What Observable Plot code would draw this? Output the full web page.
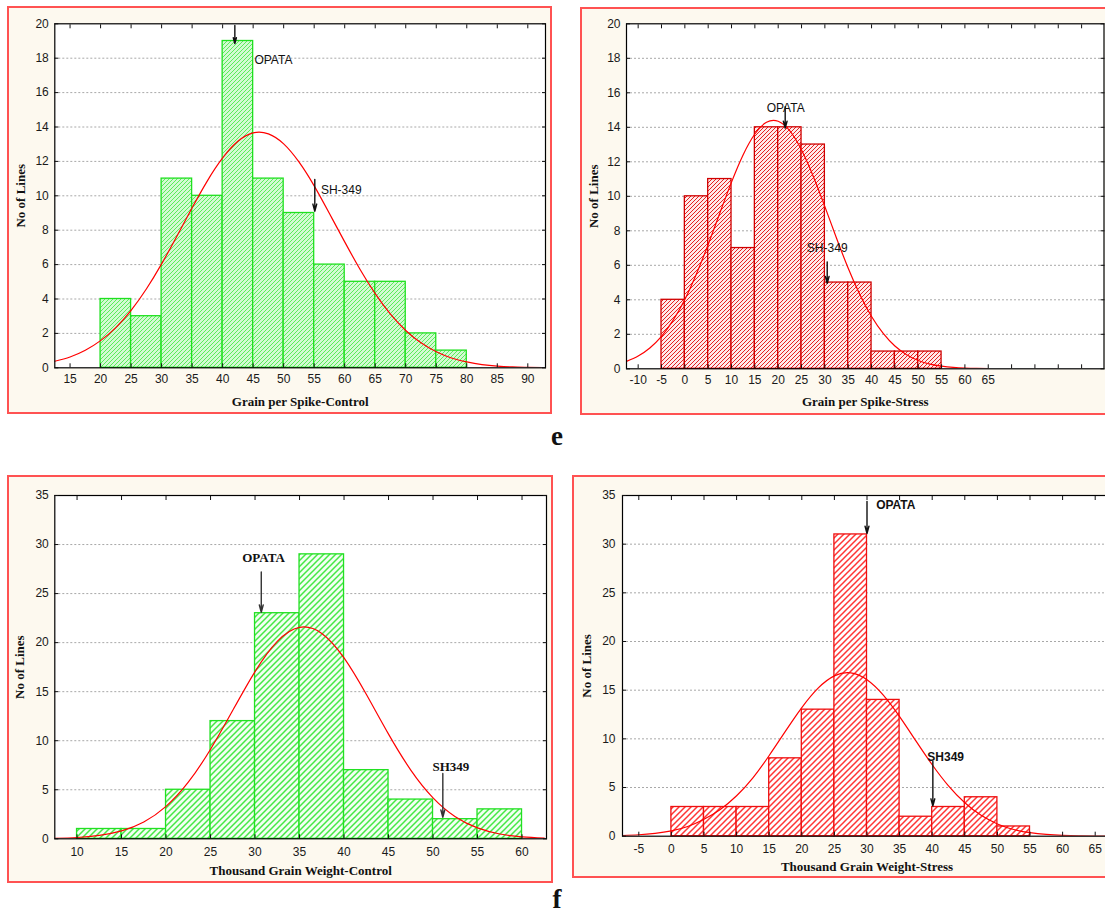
<!DOCTYPE html>
<html><head><meta charset="utf-8">
<script src="https://cdn.jsdelivr.net/npm/d3@7"></script>
<script src="https://cdn.jsdelivr.net/npm/@observablehq/plot@0.6"></script>
<style>
html,body{margin:0;padding:0;overflow:hidden;background:#fff;width:1105px;height:914px;}
#page{position:relative;width:1105px;height:914px;overflow:hidden;background:#fff;}
.panel{position:absolute;background:#fdf9ef;border:2px solid #ff5252;box-sizing:border-box;}
.chart{position:absolute;}
.letter{position:absolute;font-family:"Liberation Serif","Times New Roman",serif;font-weight:bold;font-size:27px;line-height:27px;transform:translate(-50%,-50%);color:#111;}
</style></head>
<body>
<svg width="0" height="0" style="position:absolute">
  <defs>
    <pattern id="hatchGreenFine" patternUnits="userSpaceOnUse" width="4" height="4">
      <rect width="4" height="4" fill="#d2fad2"/>
      <path d="M-1,5 L5,-1 M-1,1 L1,-1 M3,5 L5,3" stroke="#5aec5a" stroke-width="1"/>
    </pattern>
    <pattern id="hatchGreenWide" patternUnits="userSpaceOnUse" width="6" height="6">
      <rect width="6" height="6" fill="#f2fff2"/>
      <path d="M-1,7 L7,-1 M-1,1 L1,-1 M5,7 L7,5" stroke="#45e845" stroke-width="1.5"/>
    </pattern>
    <pattern id="hatchRedFine" patternUnits="userSpaceOnUse" width="4" height="4">
      <rect width="4" height="4" fill="#ffeaea"/>
      <path d="M-1,5 L5,-1 M-1,1 L1,-1 M3,5 L5,3" stroke="#e42222" stroke-width="1"/>
    </pattern>
    <pattern id="hatchRedWide" patternUnits="userSpaceOnUse" width="6" height="6">
      <rect width="6" height="6" fill="#ffffff"/>
      <path d="M-1,7 L7,-1 M-1,1 L1,-1 M5,7 L7,5" stroke="#ff3535" stroke-width="1.5"/>
    </pattern>
  </defs>
</svg>
<div id="page">
  <div class="panel" style="left:7px;top:5.5px;width:545px;height:408px"></div>
  <div class="panel" style="left:580px;top:7px;width:540px;height:408px"></div>
  <div class="panel" style="left:7px;top:475px;width:546px;height:408px"></div>
  <div class="panel" style="left:572px;top:475px;width:560px;height:403px"></div>
  <div class="chart" id="cA" style="left:0px;top:0px;width:560px;height:420px"></div>
  <div class="chart" id="cB" style="left:575px;top:0px;width:530px;height:420px"></div>
  <div class="chart" id="cC" style="left:0px;top:470px;width:560px;height:420px"></div>
  <div class="chart" id="cD" style="left:560px;top:470px;width:560px;height:420px"></div>
  <div class="letter" style="left:557px;top:436px">e</div>
  <div class="letter" style="left:557px;top:899px">f</div>
</div>
<script>
// ---------------- DATA ----------------
const binWidth = 5;

// Grain per Spike - Control
const gpsControlBinStart = [20,25,30,35,40,45,50,55,60,65,70,75];
const gpsControlCounts   = [4,3,11,10,19,11,9,6,5,5,2,1];
const gpsControlCurveX = [12.5,15,17.5,20,22.5,25,27.5,30,32.5,35,37.5,40,42.5,45,47.5,50,52.5,55,57.5,60,62.5,65,67.5,70,72.5,75,77.5,80,82.5,85,87.5,90,92.5];
const gpsControlCurveY = [0.38,0.63,1.02,1.58,2.34,3.34,4.58,6.04,7.65,9.30,10.87,12.2,13.17,13.66,13.6,13.02,11.97,10.58,8.97,7.32,5.73,4.31,3.12,2.17,1.45,0.93,0.57,0.34,0.19,0.10,0.05,0.03,0.01];
const gpsControlXTicks = [15,20,25,30,35,40,45,50,55,60,65,70,75,80,85,90];
const gpsControlYTicks = [0,2,4,6,8,10,12,14,16,18,20];
const gpsControlAnnotText = ["OPATA","SH-349"];
const gpsControlAnnotX = [45.2,56.1];
const gpsControlAnnotY = [17.87,10.3];
const gpsControlArrowX = [42,55.1];
const gpsControlArrowFrom = [19.9,10.95];
const gpsControlArrowTo = [18.85,9.1];

// Grain per Spike - Stress
const gpsStressBinStart = [-5,0,5,10,15,20,25,30,35,40,45,50];
const gpsStressCounts   = [4,10,11,7,14,14,13,5,5,1,1,1];
const gpsStressCurveX = [-12.5,-10,-7.5,-5,-2.5,0,2.5,5,7.5,10,12.5,15,17.5,20,22.5,25,27.5,30,32.5,35,37.5,40,42.5,45,47.5,50,52.5,55,57.5,60,62.5,65];
const gpsStressCurveY = [0.43,0.74,1.21,1.88,2.82,4.02,5.51,7.21,9.03,10.82,12.41,13.61,14.29,14.35,13.79,12.68,11.16,9.40,7.57,5.83,4.30,3.03,2.05,1.32,0.82,0.48,0.27,0.15,0.08,0.04,0.02,0.01];
const gpsStressXTicks = [-10,-5,0,5,10,15,20,25,30,35,40,45,50,55,60,65,70,75,80,85];
const gpsStressXLabels = [-10,-5,0,5,10,15,20,25,30,35,40,45,50,55,60,65];
const gpsStressYTicks = [0,2,4,6,8,10,12,14,16,18,20];
const gpsStressAnnotText = ["OPATA","SH-349"];
const gpsStressAnnotX = [21.6,30.5];
const gpsStressAnnotY = [15.1,6.97];
const gpsStressArrowX = [21.5,30.5];
const gpsStressArrowFrom = [15.2,6.2];
const gpsStressArrowTo = [13.95,4.95];

// Thousand Grain Weight - Control
const tgwControlBinStart = [10,15,20,25,30,35,40,45,50,55];
const tgwControlCounts   = [1,1,5,12,23,29,7,4,2,3];
const tgwControlCurveX = [7.5,10,12.5,15,17.5,20,22.5,25,27.5,30,32.5,35,37.5,40,42.5,45,47.5,50,52.5,55,57.5,60,62.5];
const tgwControlCurveY = [0.05,0.13,0.35,0.81,1.72,3.31,5.77,9.13,13.10,17.05,20.13,21.56,20.94,18.44,14.73,10.67,7.01,4.18,2.26,1.11,0.49,0.20,0.07];
const tgwControlXTicks = [10,15,20,25,30,35,40,45,50,55,60];
const tgwControlYTicks = [0,5,10,15,20,25,30,35];
const tgwControlAnnotText = ["OPATA","SH349"];
const tgwControlAnnotX = [30.95,52.0];
const tgwControlAnnotY = [28.65,7.3];
const tgwControlArrowX = [30.7,51.1];
const tgwControlArrowFrom = [27.2,6.65];
const tgwControlArrowTo = [23.1,2.2];

// Thousand Grain Weight - Stress
const tgwStressBinStart = [0,5,10,15,20,25,30,35,40,45,50];
const tgwStressCounts   = [3,3,3,8,13,31,14,2,3,4,1];
const tgwStressCurveX = [-7.5,-5,-2.5,0,2.5,5,7.5,10,12.5,15,17.5,20,22.5,25,27.5,30,32.5,35,37.5,40,42.5,45,47.5,50,52.5,55,57.5,60,62.5,65,67.5];
const tgwStressCurveY = [0.07,0.15,0.3,0.55,1.0,1.75,2.75,4.15,5.99,8.29,10.79,13.21,15.21,16.47,16.78,16.07,14.49,12.28,9.79,7.34,5.17,3.43,2.14,1.26,0.69,0.36,0.18,0.08,0.03,0.01,0.0];
const tgwStressXTicks = [-5,0,5,10,15,20,25,30,35,40,45,50,55,60,65];
const tgwStressYTicks = [0,5,10,15,20,25,30,35];
const tgwStressAnnotText = ["OPATA","SH349"];
const tgwStressAnnotX = [31.4,39.25];
const tgwStressAnnotY = [34.0,8.1];
const tgwStressArrowX = [30,40.1];
const tgwStressArrowFrom = [34.4,7.7];
const tgwStressArrowTo = [31.1,3.1];

// ---------------- DRAWING ----------------
const SANS = "'Liberation Sans', Arial, Helvetica, sans-serif";
const SERIF = "'Liberation Serif', 'Times New Roman', serif";

function panel(cfg) {
  const bars = cfg.binStart.map((lo, i) => ({x1: lo, x2: lo + binWidth, y: cfg.counts[i]}));
  const curve = cfg.curveX.map((x, i) => ({x, y: cfg.curveY[i]}));
  const arrows = cfg.arrowX.map((x, i) => ({x, y1: cfg.arrowFrom[i], y2: cfg.arrowTo[i]}));
  const notes = cfg.annotText.map((t, i) => ({text: t, x: cfg.annotX[i], y: cfg.annotY[i]}));
  const yGrid = cfg.yTicks.filter(v => v > cfg.yDomain[0] && v < cfg.yDomain[1]);
  const fmtX = cfg.xLabels ? (d => cfg.xLabels.includes(d) ? String(d) : "") : (d => String(d));
  return Plot.plot({
    width: cfg.width, height: cfg.height,
    marginLeft: cfg.m[3], marginRight: cfg.m[1], marginTop: cfg.m[0], marginBottom: cfg.m[2],
    style: {background: "transparent", overflow: "visible", maxWidth: "none", fontFamily: SANS, fontSize: "12px", color: "#111"},
    x: {domain: cfg.xDomain, label: null},
    y: {domain: cfg.yDomain, label: null},
    marks: [
      Plot.frame({fill: "white", stroke: null}),
      Plot.gridY({ticks: yGrid, stroke: "#a8a8a8", strokeOpacity: 1, strokeDasharray: "2,2", strokeWidth: 1}),
      Plot.rectY(bars, {x1: "x1", x2: "x2", y: "y", fill: cfg.fill, stroke: cfg.stroke, strokeWidth: 1.3}),
      Plot.line(curve, {x: "x", y: "y", stroke: "#ff0000", strokeWidth: 1.2, curve: "natural", clip: "frame"}),
      Plot.frame({stroke: "#000", strokeWidth: 1.2}),
      Plot.axisX({ticks: cfg.xTicks, anchor: "bottom", tickSize: -4, tickFormat: () => "", label: null}),
      Plot.axisX({ticks: cfg.xTicks, anchor: "top", tickSize: -4, tickFormat: () => "", label: null}),
      Plot.axisY({ticks: cfg.yTicks, anchor: "left", tickSize: -4, tickFormat: () => "", label: null}),
      Plot.axisY({ticks: cfg.yTicks, anchor: "right", tickSize: -4, tickFormat: () => "", label: null}),
      Plot.axisX({ticks: cfg.xTicks, anchor: "bottom", tickSize: 0, tickPadding: cfg.xPad, tickFormat: fmtX, label: null, fill: "#1a1a1a"}),
      Plot.axisY({ticks: cfg.yTicks, anchor: "left", tickSize: 0, tickPadding: cfg.yPad, label: null, fill: "#1a1a1a"}),
      Plot.text([cfg.xTitle], {text: d => d, frameAnchor: "bottom", dy: cfg.xTitleDy, lineAnchor: "middle", fontFamily: SERIF, fontWeight: "bold", fontSize: 13, fill: "#111"}),
      Plot.text([cfg.yTitle], {text: d => d, frameAnchor: "left", dx: cfg.yTitleDx, rotate: -90, lineAnchor: "middle", textAnchor: "middle", fontFamily: SERIF, fontWeight: "bold", fontSize: 13, fill: "#111"}),
      Plot.arrow(arrows, {x1: "x", x2: "x", y1: "y1", y2: "y2", stroke: cfg.arrowColor, strokeWidth: 1.4, headLength: 8, headAngle: 30}),
      ...notes.map((n, i) => Plot.text([n], {x: "x", y: "y", text: "text", textAnchor: cfg.annotAnchor[i], lineAnchor: "middle",
        fontFamily: cfg.annotFont, fontWeight: cfg.annotWeight, fontSize: cfg.annotSize, fill: "#111"}))
    ]
  });
}

document.getElementById("cA").append(panel({
  width: 560, height: 420, m: [23.3, 15, 52.7, 54.3],
  xDomain: [12.5, 92.9], yDomain: [0, 20],
  binStart: gpsControlBinStart, counts: gpsControlCounts,
  curveX: gpsControlCurveX, curveY: gpsControlCurveY,
  xTicks: gpsControlXTicks, yTicks: gpsControlYTicks,
  fill: "url(#hatchGreenFine)", stroke: "#1fe01f",
  xPad: 6.5, yPad: 6, xTitle: "Grain per Spike-Control", yTitle: "No of Lines", xTitleDy: 34, yTitleDx: -33.6,
  annotText: gpsControlAnnotText, annotX: gpsControlAnnotX, annotY: gpsControlAnnotY,
  arrowX: gpsControlArrowX, arrowFrom: gpsControlArrowFrom, arrowTo: gpsControlArrowTo,
  annotAnchor: ["start", "start"], annotFont: SANS, annotWeight: "normal", annotSize: 12, arrowColor: "#111"
}));

document.getElementById("cB").append(panel({
  width: 530, height: 420, m: [23.3, 1.5, 51.7, 51],
  xDomain: [-12.5, 89.8], yDomain: [0, 20],
  binStart: gpsStressBinStart, counts: gpsStressCounts,
  curveX: gpsStressCurveX, curveY: gpsStressCurveY,
  xTicks: gpsStressXTicks, xLabels: gpsStressXLabels, yTicks: gpsStressYTicks,
  fill: "url(#hatchRedFine)", stroke: "#d00000",
  xPad: 6.5, yPad: 6, xTitle: "Grain per Spike-Stress", yTitle: "No of Lines", xTitleDy: 33, yTitleDx: -32.4,
  annotText: gpsStressAnnotText, annotX: gpsStressAnnotX, annotY: gpsStressAnnotY,
  arrowX: gpsStressArrowX, arrowFrom: gpsStressArrowFrom, arrowTo: gpsStressArrowTo,
  annotAnchor: ["middle", "middle"], annotFont: SANS, annotWeight: "normal", annotSize: 12, arrowColor: "#111"
}));

document.getElementById("cC").append(panel({
  width: 560, height: 420, m: [25, 14, 51.7, 54.3],
  xDomain: [7.5, 62.75], yDomain: [0, 35],
  binStart: tgwControlBinStart, counts: tgwControlCounts,
  curveX: tgwControlCurveX, curveY: tgwControlCurveY,
  xTicks: tgwControlXTicks, yTicks: tgwControlYTicks,
  fill: "url(#hatchGreenWide)", stroke: "#22e022",
  xPad: 8.5, yPad: 6, xTitle: "Thousand Grain Weight-Control", yTitle: "No of Lines", xTitleDy: 31.7, yTitleDx: -35.3,
  annotText: tgwControlAnnotText, annotX: tgwControlAnnotX, annotY: tgwControlAnnotY,
  arrowX: tgwControlArrowX, arrowFrom: tgwControlArrowFrom, arrowTo: tgwControlArrowTo,
  annotAnchor: ["middle", "middle"], annotFont: SERIF, annotWeight: "bold", annotSize: 13, arrowColor: "#333"
}));

document.getElementById("cD").append(panel({
  width: 560, height: 420, m: [25, 9, 54.3, 62],
  xDomain: [-7.5, 67.5], yDomain: [0, 35],
  binStart: tgwStressBinStart, counts: tgwStressCounts,
  curveX: tgwStressCurveX, curveY: tgwStressCurveY,
  xTicks: tgwStressXTicks, yTicks: tgwStressYTicks,
  fill: "url(#hatchRedWide)", stroke: "#ee1010",
  xPad: 8.5, yPad: 7, xTitle: "Thousand Grain Weight-Stress", yTitle: "No of Lines", xTitleDy: 31, yTitleDx: -35.3,
  annotText: tgwStressAnnotText, annotX: tgwStressAnnotX, annotY: tgwStressAnnotY,
  arrowX: tgwStressArrowX, arrowFrom: tgwStressArrowFrom, arrowTo: tgwStressArrowTo,
  annotAnchor: ["start", "start"], annotFont: SANS, annotWeight: "bold", annotSize: 12, arrowColor: "#111"
}));
</script>
</body></html>
